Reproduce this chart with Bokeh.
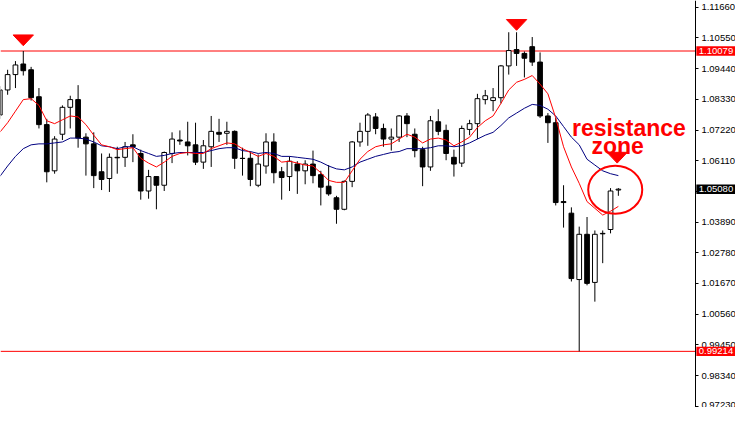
from bokeh.plotting import figure
from bokeh.models import Range1d, FixedTicker, NumeralTickFormatter, ColumnDataSource
from bokeh.core.properties import value
from bokeh.embed import file_html
from bokeh.resources import INLINE

# ---------------- data ----------------
bar_index = list(range(-1, 79))

open_ = [1.07764, 1.08670, 1.09226, 1.09609, 1.09400, 1.08425, 1.07416, 1.05745, 1.07068, 1.08042,
         1.08321, 1.06963, 1.06720, 1.05711, 1.05467, 1.06233, 1.06233, 1.06685, 1.06372, 1.05015,
         1.05537, 1.05223, 1.06372, 1.06859, 1.06789, 1.06685, 1.06059, 1.06615, 1.07137, 1.07103,
         1.07172, 1.06198, 1.06198, 1.05223, 1.05919, 1.06789, 1.05711, 1.05537, 1.05989, 1.05745,
         1.05989, 1.05606, 1.05189, 1.04771, 1.04353, 1.05363, 1.06789, 1.07172, 1.07694, 1.07277,
         1.06894, 1.06963, 1.07729, 1.07068, 1.06511, 1.05885, 1.07520, 1.07207, 1.06233, 1.06024,
         1.07242, 1.07451, 1.08321, 1.08286, 1.08390, 1.09540, 1.10131, 1.09992, 1.10236, 1.09679,
         1.07729, 1.07485, 1.04632, 1.04213, 1.01812, 1.03448, 1.01708, 1.03482, 1.03622, 1.05050]

high = [1.08809, 1.09400, 1.09714, 1.10079, 1.09505, 1.08739, 1.07625, 1.06998, 1.08112, 1.08461,
        1.08844, 1.07103, 1.07137, 1.06372, 1.06372, 1.06615, 1.06789, 1.07068, 1.06511, 1.05780,
        1.05537, 1.06442, 1.07137, 1.07207, 1.07520, 1.07485, 1.06859, 1.07729, 1.07625, 1.07520,
        1.07207, 1.06581, 1.06442, 1.06337, 1.07103, 1.07103, 1.05885, 1.06267, 1.06093, 1.06128,
        1.06476, 1.05745, 1.05954, 1.04841, 1.05398, 1.06824, 1.07485, 1.07833, 1.07833, 1.07451,
        1.07277, 1.07764, 1.07833, 1.07277, 1.06615, 1.07729, 1.07973, 1.07416, 1.06511, 1.07381,
        1.07590, 1.08530, 1.08670, 1.08739, 1.09574, 1.10758, 1.10758, 1.10062, 1.10584, 1.10027,
        1.07833, 1.07659, 1.05223, 1.04423, 1.03726, 1.04074, 1.03587, 1.03587, 1.05119, 1.05119]

low = [1.07625, 1.08496, 1.08739, 1.09192, 1.08286, 1.07277, 1.05328, 1.05641, 1.06859, 1.07277,
       1.06581, 1.05571, 1.05119, 1.05049, 1.04980, 1.05641, 1.05885, 1.06059, 1.04701, 1.04736,
       1.04353, 1.05015, 1.06024, 1.06685, 1.06302, 1.05954, 1.05815, 1.05885, 1.06789, 1.06685,
       1.05815, 1.05571, 1.05189, 1.05154, 1.05641, 1.05293, 1.04701, 1.05015, 1.04910, 1.05258,
       1.05293, 1.04493, 1.04841, 1.03830, 1.04318, 1.05154, 1.06615, 1.06650, 1.07068, 1.06615,
       1.06476, 1.06789, 1.06963, 1.06233, 1.05189, 1.05745, 1.07033, 1.06128, 1.05537, 1.05885,
       1.07033, 1.06894, 1.08147, 1.07903, 1.08182, 1.09226, 1.09540, 1.09122, 1.09540, 1.07659,
       1.06754, 1.04493, 1.03691, 1.01742, 0.99214, 1.01603, 1.01012, 1.02404, 1.03482, 1.04841]

close = [1.08670, 1.09226, 1.09574, 1.09366, 1.08390, 1.07416, 1.05711, 1.06894, 1.08042, 1.08321,
         1.06929, 1.06720, 1.05571, 1.05432, 1.06233, 1.06216, 1.06615, 1.06615, 1.05015, 1.05537,
         1.05223, 1.06407, 1.06894, 1.06824, 1.06650, 1.06059, 1.06650, 1.07172, 1.07068, 1.07172,
         1.06198, 1.06190, 1.05432, 1.05989, 1.06789, 1.05676, 1.05502, 1.06093, 1.05745, 1.05989,
         1.05571, 1.05154, 1.04910, 1.04353, 1.05363, 1.06789, 1.07172, 1.07764, 1.07277, 1.06894,
         1.06963, 1.07729, 1.07451, 1.06476, 1.05885, 1.07555, 1.07172, 1.06372, 1.05989, 1.07277,
         1.07451, 1.08355, 1.08461, 1.08390, 1.09540, 1.10096, 1.09992, 1.09818, 1.09679, 1.07729,
         1.07485, 1.04597, 1.04597, 1.01847, 1.03448, 1.01673, 1.03448, 1.03465, 1.05015, 1.05080]

ma_fast = [1.07137, 1.07485, 1.07903, 1.08321, 1.08355, 1.08112, 1.07555, 1.07451, 1.07590, 1.07729,
           1.07694, 1.07416, 1.07033, 1.06685, 1.06615, 1.06511, 1.06546, 1.06581, 1.06198, 1.06024,
           1.05885, 1.06059, 1.06267, 1.06372, 1.06407, 1.06372, 1.06372, 1.06546, 1.06650, 1.06754,
           1.06720, 1.06546, 1.06407, 1.06267, 1.06372, 1.06267, 1.06059, 1.06093, 1.06024, 1.05954,
           1.05919, 1.05676, 1.05398, 1.05328, 1.05328, 1.05745, 1.06163, 1.06442, 1.06615, 1.06685,
           1.06720, 1.06894, 1.07068, 1.06963, 1.06754, 1.06894, 1.06929, 1.06859, 1.06650, 1.06789,
           1.06963, 1.07311, 1.07555, 1.07729, 1.08182, 1.08670, 1.08948, 1.09053, 1.09192, 1.08879,
           1.08530, 1.07659, 1.06615, 1.05885, 1.05293, 1.04632, 1.04388, 1.04144, 1.04283, 1.04458]

ma_slow = [1.05537, 1.05919, 1.06267, 1.06546, 1.06685, 1.06720, 1.06720, 1.06754, 1.06789, 1.06929,
           1.06929, 1.06894, 1.06789, 1.06650, 1.06615, 1.06546, 1.06615, 1.06615, 1.06476, 1.06372,
           1.06267, 1.06302, 1.06372, 1.06407, 1.06407, 1.06407, 1.06407, 1.06476, 1.06546, 1.06581,
           1.06581, 1.06476, 1.06442, 1.06372, 1.06407, 1.06372, 1.06267, 1.06267, 1.06233, 1.06198,
           1.06163, 1.06059, 1.05919, 1.05815, 1.05780, 1.05885, 1.06059, 1.06163, 1.06267, 1.06337,
           1.06407, 1.06442, 1.06546, 1.06546, 1.06546, 1.06581, 1.06650, 1.06650, 1.06615, 1.06650,
           1.06754, 1.06894, 1.07033, 1.07137, 1.07381, 1.07659, 1.07833, 1.08008, 1.08147, 1.08112,
           1.07973, 1.07729, 1.07346, 1.06963, 1.06685, 1.06163, 1.05954, 1.05745, 1.05641, 1.05571]

price_ticks = [1.1166, 1.1055, 1.0944, 1.0833, 1.0722, 1.0611, 1.0500,
               1.0389, 1.0278, 1.0167, 1.0056, 0.9945, 0.9834, 0.9723]

resistance_level = 1.10079
support_level = 0.99214
current_price = 1.05080

# annotation anchors (bar position, price)
top_marker_bar = [2, 65, 77.85]
top_marker_price = [1.10270, 1.10827, 1.06024]
zone_circle = (77.6, 1.05060)
note_lines = ["resistance", "zone"]
note_bar = [79.35, 77.9]
note_price = [1.07033, 1.06511]

# ---------------- figure ----------------
X0, X_AXIS, X1 = -0.91, 87.84, 92.96
p = figure(width=735, height=407, output_backend="svg", toolbar_location=None,
           x_axis_location=None, y_axis_location="right",
           x_range=Range1d(X0, X1), y_range=Range1d(0.97183, 1.11906),
           min_border_left=0, min_border_right=0, min_border_top=0, min_border_bottom=0,
           background_fill_color="white", border_fill_color="white")
p.outline_line_color = None
p.grid.visible = False

ax = p.yaxis[0]
ax.fixed_location = X_AXIS
ax.ticker = FixedTicker(ticks=price_ticks)
ax.formatter = NumeralTickFormatter(format="0.00000")
ax.major_tick_out = 3
ax.major_tick_in = 0
ax.minor_tick_out = 0
ax.minor_tick_in = 0
ax.axis_line_color = "black"
ax.major_tick_line_color = "black"
ax.major_label_text_font = "Liberation Sans"
ax.major_label_text_font_size = "9.5px"
ax.major_label_text_color = "black"
ax.major_label_standoff = 3

# horizontal levels (end at the price axis)
p.segment(x0=[X0, X0], y0=[resistance_level, support_level],
          x1=[X_AXIS, X_AXIS], y1=[resistance_level, support_level],
          line_color="#ff0000", line_width=1)

# candles
bull = [c >= o for o, c in zip(open_, close)]
src = ColumnDataSource(dict(
    x=bar_index, high=high, low=low,
    top=[max(o, c) for o, c in zip(open_, close)],
    bottom=[min(o, c) for o, c in zip(open_, close)],
    fill=["white" if b else "black" for b in bull],
))
p.segment(x0="x", y0="high", x1="x", y1="low", source=src, line_color="black", line_width=1)
p.vbar(x="x", width=0.6, top="top", bottom="bottom", source=src,
       fill_color="fill", line_color="black", line_width=1)

# moving averages
p.line(bar_index, ma_slow, line_color="#000080", line_width=1)
p.line(bar_index, ma_fast, line_color="#ff0000", line_width=1)

# red markers (flat inverted triangles)
half_w = 1.3
tri_h = 0.0039
p.patches(xs=[[b - half_w, b + half_w, b] for b in top_marker_bar],
          ys=[[y + tri_h, y + tri_h, y] for y in top_marker_price],
          fill_color="#ff0000", line_color="#ff0000", line_width=1)

# circle around the zone
p.ellipse(x=[zone_circle[0]], y=[zone_circle[1]], width=6.9, height=0.0174,
          fill_color=None, line_color="#ff0000", line_width=2)

# text
p.text(x=note_bar, y=note_price, text=note_lines, text_font=value("Liberation Sans"),
       text_font_style="bold", text_font_size="23px", text_color="#ff0000",
       text_align="center", text_baseline="alphabetic", y_offset=[-7, -4])

# price boxes on the axis (drawn above the axis labels)
box_levels = [resistance_level, support_level, current_price]
box_colors = ["#ff0000", "#ff0000", "black"]
box_texts = [f"{v:.5f}" for v in box_levels]
box_x = (X_AXIS + X1) / 2 + 0.07
p.rect(x=[box_x] * 3, y=box_levels, width=X1 - X_AXIS - 0.1, height=0.0034,
       fill_color=box_colors, line_color=None, level="overlay")
p.text(x=[box_x] * 3, y=box_levels, text=box_texts, text_color="white",
       text_font=value("Liberation Sans"), text_font_size="9.5px",
       text_align="center", text_baseline="middle", level="overlay")

open("out.html", "w").write(file_html(p, INLINE))
